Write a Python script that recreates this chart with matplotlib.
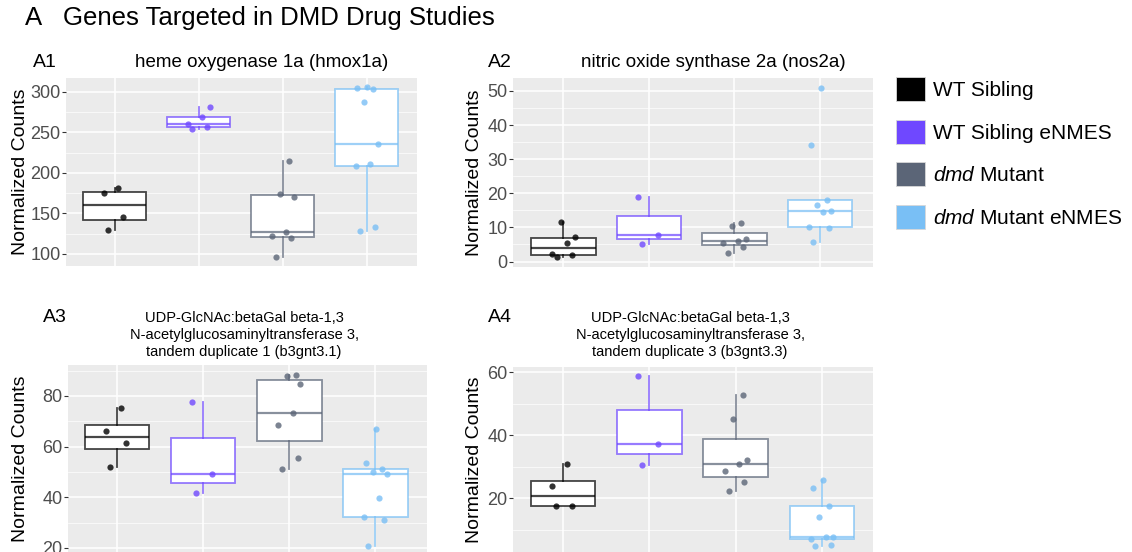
import matplotlib
matplotlib.use("Agg")
import matplotlib.pyplot as plt
from matplotlib.colors import to_rgba
from matplotlib.patches import Patch
from matplotlib.ticker import AutoMinorLocator, MultipleLocator

plt.rcParams['font.family'] = ['Liberation Sans', 'DejaVu Sans']
plt.rcParams['mathtext.fontset'] = 'custom'
plt.rcParams['mathtext.rm'] = 'Liberation Sans'
plt.rcParams['mathtext.it'] = 'Liberation Sans:italic'

W, H = 1132, 552

# groups and colours
groups = ["WT Sibling", "WT Sibling eNMES", r"$\it{dmd}$ Mutant", r"$\it{dmd}$ Mutant eNMES"]
colors = ["#000000", "#6f48ff", "#5b6577", "#79bff5"]

# normalized counts per group (WT, WT eNMES, dmd, dmd eNMES)
hmox1a = [
    [130, 145, 175, 181],
    [254, 257, 260, 269, 281],
    [96, 120, 122, 127, 170, 174, 215],
    [128, 133, 209, 211, 236, 287, 303, 305, 306],
]
nos2a = [
    [1.2, 1.8, 2.3, 5.5, 7.2, 11.5],
    [5.2, 7.8, 18.8],
    [2.4, 4.4, 5.5, 6.0, 6.5, 10.3, 11.3],
    [5.6, 9.8, 10.0, 14.4, 14.7, 16.6, 18.0, 34.2, 51.0],
]
b3gnt3_1 = [
    [52.1, 61.3, 66.3, 75.4],
    [41.8, 49.1, 77.5],
    [51.2, 55.5, 68.6, 73.4, 84.6, 88.0, 88.3],
    [20.8, 31.1, 32.4, 39.9, 49.3, 50.0, 51.0, 53.5, 66.8],
]
b3gnt3_3 = [
    [17.4, 17.4, 23.7, 30.8],
    [30.6, 37.3, 58.6],
    [22.4, 25.0, 28.5, 30.8, 32.2, 45.2, 52.8],
    [4.9, 5.2, 7.0, 7.6, 7.8, 13.9, 17.6, 23.2, 25.8],
]

# fixed jitter pattern for the dots
jitter = [-0.08, 0.10, -0.13, 0.04, 0.13, -0.03, 0.08, -0.11, 0.01]


def fx(px):
    return px / W


def fy(py):
    return 1 - py / H


def draw_panel(ax, data, xlim, ylim, step, label_x):
    ax.set_facecolor("#ebebeb")
    for s in ax.spines.values():
        s.set_visible(False)
    pos = [1, 2, 3, 4]
    bp = ax.boxplot(data, positions=pos, widths=0.75, patch_artist=True,
                    showfliers=False, showcaps=False, whis=1.5, zorder=3)
    for i, c in enumerate(colors):
        line_c = to_rgba(c, 0.72)
        bp['boxes'][i].set(facecolor="white", edgecolor=line_c, linewidth=1.3)
        bp['medians'][i].set(color=line_c, linewidth=1.6)
        for w in bp['whiskers'][2 * i:2 * i + 2]:
            w.set(color=line_c, linewidth=1.3)
    for i, vals in enumerate(data):
        xs = [pos[i] + jitter[k % len(jitter)] for k in range(len(vals))]
        ax.scatter(xs, vals, s=20, color=colors[i], alpha=0.8, zorder=4, linewidths=0)
    ax.set_xlim(*xlim)
    ax.set_ylim(*ylim)
    ax.set_xticks(pos)
    ax.set_xticklabels([])
    ax.tick_params(axis='x', length=0)
    ax.yaxis.set_major_locator(MultipleLocator(step))
    ax.yaxis.set_minor_locator(AutoMinorLocator(2))
    ax.tick_params(axis='y', which='major', length=3, color="#333333",
                   labelcolor="#4d4d4d", labelsize=13, pad=1)
    ax.tick_params(axis='y', which='minor', length=0)
    ax.grid(True, which='major', color="white", linewidth=1.1, zorder=0)
    ax.grid(True, which='minor', axis='y', color="white", linewidth=0.5, zorder=0)
    ax.set_axisbelow(True)
    ax.set_ylabel("Normalized Counts", fontsize=14, color="black")
    ax.yaxis.set_label_coords(label_x, 0.5)


fig = plt.figure(figsize=(W / 100, H / 100), dpi=100)

ax1 = fig.add_axes([fx(66), fy(266), fx(417 - 66), (266 - 78) / H])
draw_panel(ax1, hmox1a, (0.42, 4.60), (85, 317), 50, -0.104)
ax2 = fig.add_axes([fx(513), fy(267), fx(873 - 513), (267 - 78) / H])
draw_panel(ax2, nos2a, (0.41, 4.62), (-1.6, 53.8), 10, -0.083)
ax3 = fig.add_axes([fx(68), fy(552), fx(427 - 68), (552 - 365) / H])
draw_panel(ax3, b3gnt3_1, (0.43, 4.60), (18.4, 92.2), 20, -0.108)
ax4 = fig.add_axes([fx(513), fy(552), fx(873 - 513), (552 - 367) / H])
draw_panel(ax4, b3gnt3_3, (0.42, 4.59), (2.9, 61.6), 20, -0.083)

# titles
fig.text(fx(25), fy(18), "A", fontsize=18.5, va='center', ha='left')
fig.text(fx(63), fy(18), "Genes Targeted in DMD Drug Studies", fontsize=18.5, va='center', ha='left')
fig.text(fx(33), fy(62), "A1", fontsize=14, va='center', ha='left')
fig.text(fx(262), fy(62), "heme oxygenase 1a (hmox1a)", fontsize=13.5, va='center', ha='center')
fig.text(fx(488), fy(62), "A2", fontsize=14, va='center', ha='left')
fig.text(fx(713), fy(62), "nitric oxide synthase 2a (nos2a)", fontsize=13.5, va='center', ha='center')
fig.text(fx(43), fy(317), "A3", fontsize=14, va='center', ha='left')
fig.text(fx(244), fy(335),
         "UDP-GlcNAc:betaGal beta-1,3\nN-acetylglucosaminyltransferase 3,\ntandem duplicate 1 (b3gnt3.1)",
         fontsize=10.5, va='center', ha='center', linespacing=1.25)
fig.text(fx(488), fy(317), "A4", fontsize=14, va='center', ha='left')
fig.text(fx(690), fy(335),
         "UDP-GlcNAc:betaGal beta-1,3\nN-acetylglucosaminyltransferase 3,\ntandem duplicate 3 (b3gnt3.3)",
         fontsize=10.5, va='center', ha='center', linespacing=1.25)

# legend
handles = [Patch(facecolor=c, edgecolor="#d8d8d8", linewidth=0.6) for c in colors]
fig.legend(handles, groups, loc='upper left', bbox_to_anchor=(fx(877), fy(58)),
           frameon=False, fontsize=15, handlelength=1.4, handleheight=1.4,
           labelspacing=0.9, handletextpad=0.38)

fig.savefig("out.png", dpi=100)
